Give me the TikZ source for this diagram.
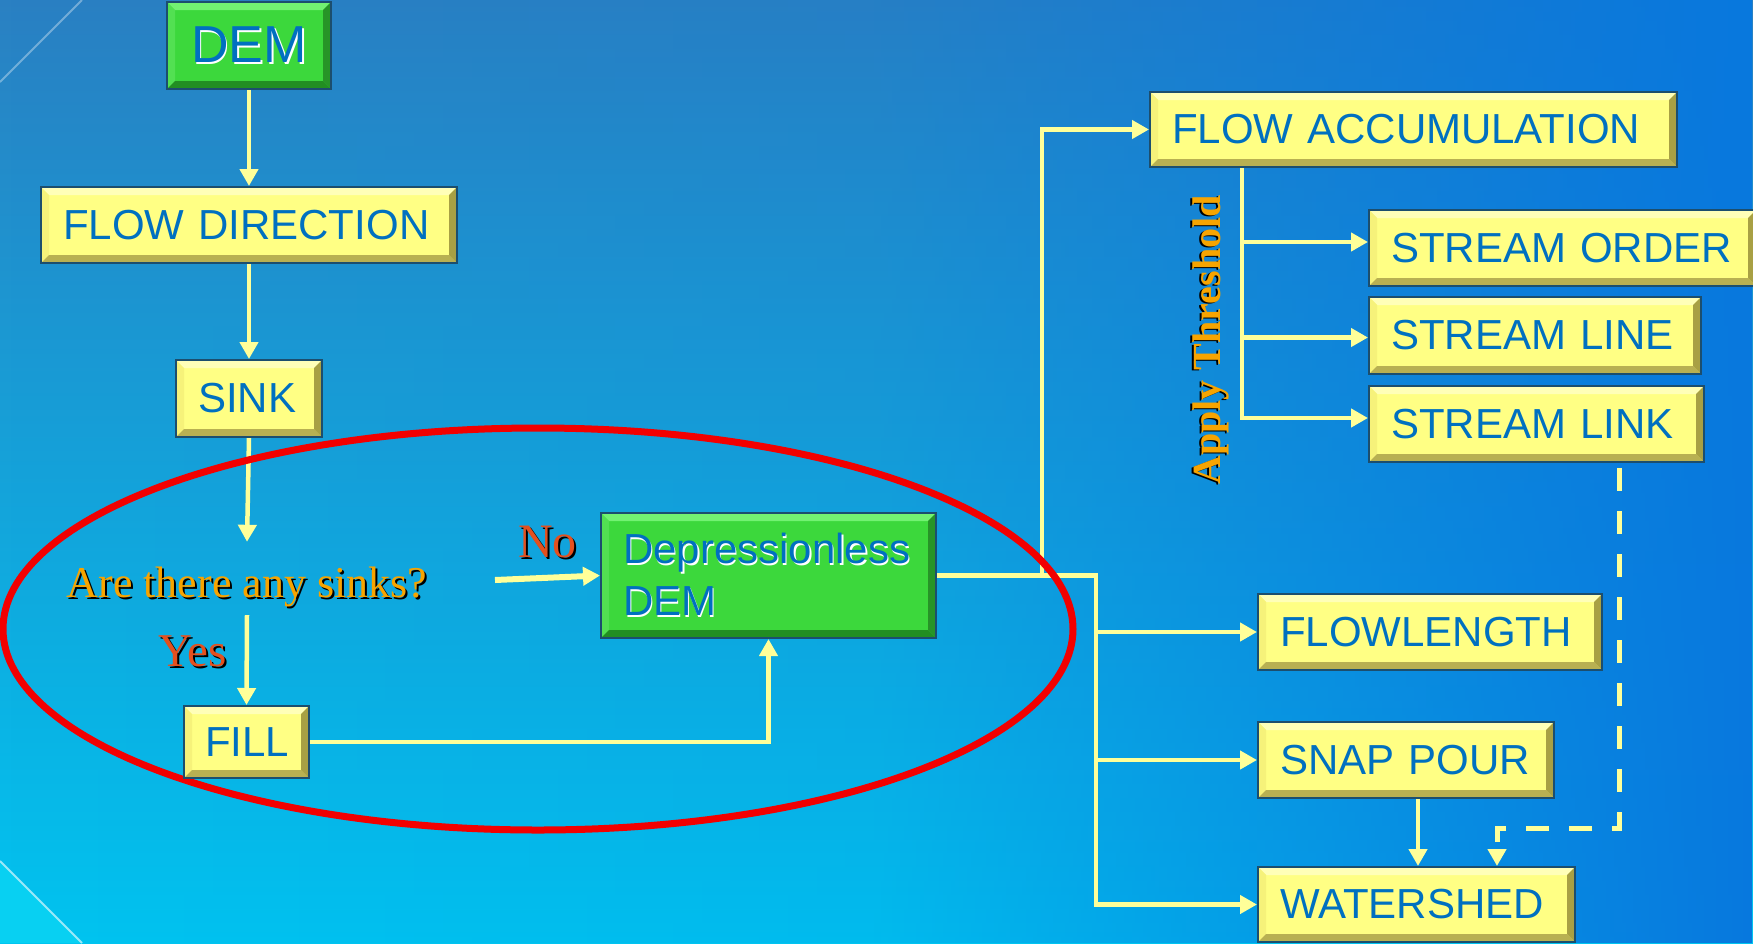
\documentclass[tikz,border=0pt]{standalone}
\usepackage{fontspec}
\setmainfont{Liberation Sans}
\newfontfamily\tnr{Liberation Serif}
\usetikzlibrary{arrows.meta,fadings,calc}
\definecolor{bgTL}{HTML}{2A80C2}
\definecolor{bgML}{HTML}{0EA8E2}
\definecolor{bgBL}{HTML}{00C4F0}
\definecolor{bgR}{HTML}{0878DE}
\definecolor{bgC}{HTML}{08D0F2}
\definecolor{yel}{HTML}{FFFF84}
\definecolor{yelT}{HTML}{FFFFB8}
\definecolor{yelL}{HTML}{F6F27A}
\definecolor{yelD}{HTML}{B8B052}
\definecolor{yelR}{HTML}{A8A044}
\definecolor{grn}{HTML}{3CD83C}
\definecolor{grnT}{HTML}{72F272}
\definecolor{grnL}{HTML}{52E052}
\definecolor{grnD}{HTML}{228E22}
\definecolor{grnR}{HTML}{279427}
\definecolor{boxB}{HTML}{1C4E6E}
\definecolor{txtB}{HTML}{0070C0}
\definecolor{lnY}{HTML}{FFFF99}
\definecolor{orq}{HTML}{F7A400}
\definecolor{yn}{HTML}{E4501E}
\definecolor{ell}{HTML}{F20000}
\pgfdeclarelayer{bg}
\pgfdeclarelayer{mid}
\pgfsetlayers{bg,mid,main}
\tikzfading[name=fadeR, left color=transparent!100, right color=transparent!0, middle color=transparent!88]
\newcommand\bevelbox[4]{%
  \def\bw{8pt}%
  \fill[#2] (path picture bounding box.north west) -- (path picture bounding box.north east)
     -- ++(-\bw,-\bw) -- ([shift={(\bw,-\bw)}]path picture bounding box.north west) -- cycle;
  \fill[#1] (path picture bounding box.north west) -- (path picture bounding box.south west)
     -- ++(\bw,\bw) -- ([shift={(\bw,-\bw)}]path picture bounding box.north west) -- cycle;
  \fill[#3] (path picture bounding box.south west) -- (path picture bounding box.south east)
     -- ++(-\bw,\bw) -- ([shift={(\bw,\bw)}]path picture bounding box.south west) -- cycle;
  \fill[#4] (path picture bounding box.north east) -- (path picture bounding box.south east)
     -- ++(-\bw,\bw) -- ([shift={(-\bw,-\bw)}]path picture bounding box.north east) -- cycle;
}
\newcommand\wsh[1]{\makebox[0pt][l]{\kern1.6pt\raisebox{-1.6pt}{\textcolor{white}{#1}}}#1}
\newcommand\bsh[2]{\makebox[0pt][l]{\kern2pt\raisebox{-2pt}{\textcolor{black}{#2}}}\textcolor{#1}{#2}}
\tikzset{
  box/.style={draw=boxB, line width=2pt, inner sep=0pt, rectangle, text=txtB,
    align=left, font=\fontsize{42pt}{52pt}\selectfont},
  ybox/.style={box, fill=yel, path picture={\bevelbox{yelL}{yelT}{yelD}{yelR}}},
  gbox/.style={box, fill=grn, path picture={\bevelbox{grnL}{grnT}{grnD}{grnR}}},
  con/.style={draw=lnY, line width=4.5pt, -{Triangle[width=18pt,length=17pt]}},
}
\begin{document}
\begin{tikzpicture}[x=1pt,y=-1pt]
\useasboundingbox (0,0) rectangle (1753,943);
\begin{pgfonlayer}{bg}
  \shade[top color=bgTL, middle color=bgML, bottom color=bgBL] (0,0) rectangle (1753,943);
  \fill[bgR, path fading=fadeR] (0,0) rectangle (1753,943);
  \fill[bgC] (0,861) -- (82,943) -- (0,943) -- cycle;
  \draw[white, opacity=0.6, line width=2pt] (0,861) -- (82,943);
  \draw[white, opacity=0.35, line width=2pt] (0,82) -- (82,0);
\end{pgfonlayer}

% nodes
\node[gbox, minimum width=164pt, minimum height=87pt, font=\fontsize{52pt}{60pt}\selectfont] (dem) at (249,45.5) {\wsh{DEM}};
\node[ybox, minimum width=416pt, minimum height=76pt, text width=372pt] (fdir) at (249,225) {FLOW DIRECTION};
\node[ybox, minimum width=146pt, minimum height=77pt, text width=102pt] (sink) at (249,398.5) {SINK};
\node[anchor=base, text height=55pt, text depth=18pt, inner sep=0pt,
      font=\tnr\fontsize{44pt}{50pt}\selectfont] (q) at (247,597) {\bsh{orq}{Are there any sinks?}};
\node[anchor=base west, inner sep=0pt, font=\tnr\fontsize{47pt}{50pt}\selectfont] (yes) at (158,666) {\bsh{yn}{Yes}};
\node[anchor=base west, inner sep=0pt, font=\tnr\fontsize{48pt}{50pt}\selectfont] (no) at (518,557) {\bsh{yn}{No}};
\coordinate (nostart) at (495,580);
\node[ybox, minimum width=125pt, minimum height=72pt, text width=83pt] (fill) at (246.5,742) {FILL};
\node[gbox, minimum width=335pt, minimum height=125pt, text width=291pt] (ddem) at (768.5,575.5) {\wsh{Depressionless}\\\wsh{DEM}};
\node[ybox, minimum width=527pt, minimum height=75pt, text width=483pt] (fa) at (1413.5,129.5) {FLOW ACCUMULATION};
\node[ybox, minimum width=387pt, minimum height=76pt, text width=343pt] (so) at (1562.5,248) {STREAM ORDER};
\node[ybox, minimum width=332pt, minimum height=77pt, text width=288pt] (sl) at (1535,335.5) {STREAM LINE};
\node[ybox, minimum width=335pt, minimum height=76pt, text width=291pt] (slk) at (1536.5,424) {STREAM LINK};
\node[ybox, minimum width=344pt, minimum height=76pt, text width=300pt] (fl) at (1430,632) {FLOWLENGTH};
\node[ybox, minimum width=296pt, minimum height=76pt, text width=252pt] (sp) at (1406,760) {SNAP POUR};
\node[ybox, minimum width=317pt, minimum height=75pt, text width=273pt] (ws) at (1416.5,904.5) {WATERSHED};
\node[rotate=90, inner sep=0pt, font=\tnr\bfseries\fontsize{40pt}{44pt}\selectfont] (thr) at (1210,340)
  {\makebox[0pt][l]{\kern-1pt\raisebox{2pt}{\textcolor{black}{Apply Threshold}}}\textcolor{orq}{Apply Threshold}};

\coordinate (j1) at (1096,575.5);
\coordinate (j2) at (1042,575.5);
\coordinate (b0) at ([xshift=93pt]fa.south west);

\begin{pgfonlayer}{mid}
  \draw[con] (dem) -- (fdir);
  \draw[con] (fdir) -- (sink);
  \draw[con] (sink.south) -- (q.north);
  \draw[con] (q.south) -- (fill.north);
  \draw[con, line width=6pt] (nostart) -- (ddem.west);
  \draw[con] (fill.east) -| (ddem.south);
  \draw[con] (ddem.east) -- (j1) |- (ws.west);
  \draw[con] (j1) |- (fl.west);
  \draw[con] (j1) |- (sp.west);
  \draw[con] (j2) |- (fa.west);
  \draw[con] (b0) |- ([yshift=6pt]slk.west);
  \draw[con] (b0) |- ([yshift=6pt]so.west);
  \draw[con] (b0) |- ([yshift=-2pt]sl.west);
  \draw[con] ([xshift=12pt]sp.south) -- ([xshift=12pt]sp.south |- ws.north);
  \draw[con, line width=5pt, dash pattern=on 23pt off 20pt]
    ([xshift=82.5pt,yshift=-5pt]slk.south) -- ++(0,360) -| ([xshift=80.5pt]ws.north);
  \draw[ell, line width=7pt] (538,629) ellipse [x radius=535pt, y radius=201pt];
\end{pgfonlayer}
\end{tikzpicture}
\end{document}
